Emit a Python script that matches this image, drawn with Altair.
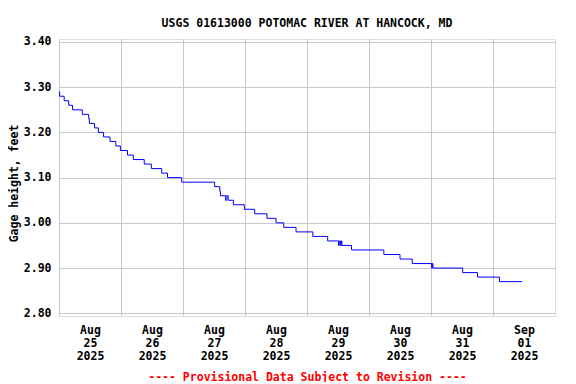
import altair as alt
import pandas as pd

# Change points of the gage height (step series)
times = [
    "2025-08-25T00:00", "2025-08-25T00:15", "2025-08-25T02:00", "2025-08-25T03:45",
    "2025-08-25T05:15", "2025-08-25T09:00", "2025-08-25T11:30", "2025-08-25T11:45",
    "2025-08-25T13:45", "2025-08-25T15:15", "2025-08-25T17:15", "2025-08-25T19:45",
    "2025-08-25T22:00", "2025-08-25T23:45", "2025-08-26T02:30", "2025-08-26T04:45",
    "2025-08-26T09:00", "2025-08-26T11:45", "2025-08-26T15:45", "2025-08-26T18:00",
    "2025-08-26T23:30", "2025-08-27T12:15", "2025-08-27T14:15", "2025-08-27T14:30",
    "2025-08-27T16:30", "2025-08-27T17:00", "2025-08-27T17:30", "2025-08-27T19:30",
    "2025-08-27T23:45", "2025-08-28T03:45", "2025-08-28T08:30", "2025-08-28T12:00",
    "2025-08-28T15:00", "2025-08-28T19:45", "2025-08-29T02:15", "2025-08-29T08:00",
    "2025-08-29T12:15", "2025-08-29T12:30", "2025-08-29T13:00", "2025-08-29T13:15",
    "2025-08-29T13:30", "2025-08-29T17:15", "2025-08-30T05:45", "2025-08-30T12:00",
    "2025-08-30T16:45", "2025-08-31T00:15", "2025-08-31T00:30", "2025-08-31T00:45",
    "2025-08-31T12:15", "2025-08-31T18:00", "2025-09-01T02:30", "2025-09-01T11:15",
]
heights = [
    3.29, 3.28, 3.27, 3.26,
    3.25, 3.24, 3.23, 3.22,
    3.21, 3.20, 3.19, 3.18,
    3.17, 3.16, 3.15, 3.14,
    3.13, 3.12, 3.11, 3.10,
    3.09, 3.08, 3.07, 3.06,
    3.05, 3.06, 3.05, 3.04,
    3.03, 3.02, 3.01, 3.00,
    2.99, 2.98, 2.97, 2.96,
    2.95, 2.96, 2.95, 2.96,
    2.95, 2.94, 2.93, 2.92,
    2.91, 2.90, 2.91, 2.90,
    2.89, 2.88, 2.87, 2.87,
]

tick_days = [(8, 25), (8, 26), (8, 27), (8, 28), (8, 29), (8, 30), (8, 31), (9, 1)]
y_ticks = [2.80, 2.90, 3.00, 3.10, 3.20, 3.30, 3.40]

df = pd.DataFrame({"time": [t + ":00Z" for t in times], "height": heights})

FONT = "DejaVu Sans Mono"

x_axis = alt.Axis(
    values=[alt.DateTime(year=2025, month=m, date=d, utc=True) for m, d in tick_days],
    labelExpr="[utcFormat(datum.value, '%b'), utcFormat(datum.value, '%d'), utcFormat(datum.value, '%Y')]",
    labelOffset=31,
    labelFlush=False,
    labelOverlap=False,
    labelPadding=8,
    labelLineHeight=13,
    labelBaseline="top",
    labelFont=FONT, labelFontWeight="bold", labelFontSize=11.5, labelColor="black",
    ticks=False, domain=False,
    grid=True, gridColor="#c8c8c8", gridWidth=1,
    title="---- Provisional Data Subject to Revision ----",
    titleColor="#ff0000", titleFont=FONT, titleFontWeight="bold", titleFontSize=11.5,
    titleBaseline="middle", titleY=61,
)

y_axis = alt.Axis(
    values=y_ticks,
    format=".2f",
    labelFlush=False,
    labelPadding=8,
    labelFont=FONT, labelFontWeight="bold", labelFontSize=11.5, labelColor="black",
    ticks=False, domain=False,
    grid=True, gridColor="#c8c8c8", gridWidth=1,
    title="Gage height, feet",
    titleFont=FONT, titleFontWeight="bold", titleFontSize=11.5, titleColor="black",
    titleBaseline="middle", titleX=-45, titleY=144,
)

chart = (
    alt.Chart(df)
    .mark_line(interpolate="step-after", color="#0000ff", strokeWidth=1)
    .encode(
        x=alt.X("time:T", axis=x_axis,
                scale=alt.Scale(type="utc", domain=[
                    alt.DateTime(year=2025, month=8, date=25, utc=True),
                    alt.DateTime(year=2025, month=9, date=2, utc=True)])),
        y=alt.Y("height:Q", axis=y_axis,
                scale=alt.Scale(domain=[2.794, 3.4066], nice=False, zero=False)),
    )
    .properties(
        width=496, height=277,
        autosize=alt.AutoSizeParams(type="none"),
        padding={"left": 51, "top": 31, "right": 13, "bottom": 66},
        title=alt.Title("USGS 01613000 POTOMAC RIVER AT HANCOCK, MD",
                        font=FONT, fontWeight="bold", fontSize=11.5, color="black",
                        anchor="middle", baseline="alphabetic", offset=14, dy=17),
    )
    .configure_view(stroke="black", strokeWidth=1)
    .configure(background="white")
)

chart.save("out.html", embed_options={"renderer": "svg", "actions": False})
